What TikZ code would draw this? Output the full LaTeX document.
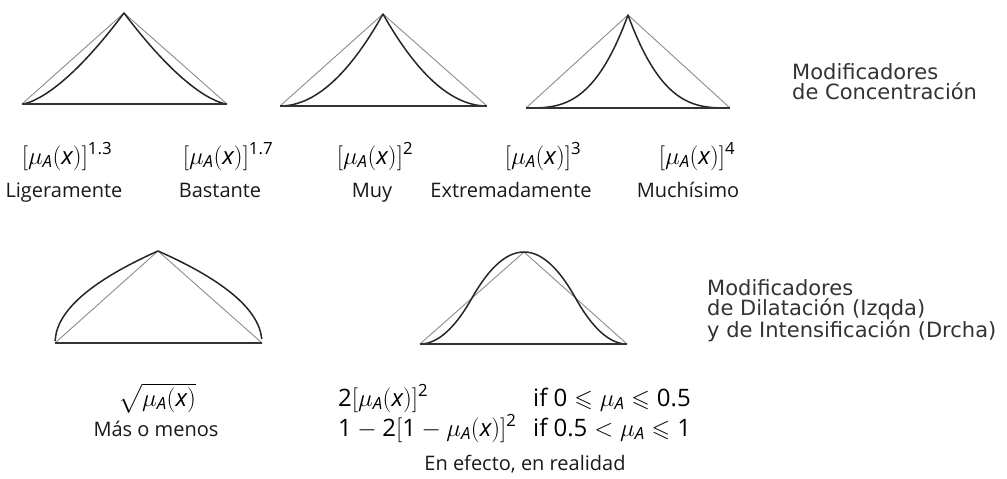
\documentclass[tikz,border=0pt]{standalone}
\usepackage{amsmath,amssymb}
\usepackage{fontspec}
\setmainfont{Open Sans}
\newfontfamily\modfont{DejaVu Sans}
\usepackage{tikz}
\usetikzlibrary{positioning}
\newcommand{\muA}{\mu_{\mathit{A}}}
\newcommand{\muAx}{\mu_{\mathit{A}}(\mathit{x})}
\newcommand{\nm}[1]{\text{#1}}
\tikzset{
  chord/.style={draw=black!45, line width=0.9pt},
  hedgeline/.style={draw=black!85, line width=1.5pt, line join=round},
  floorline/.style={draw=black!80, line width=1.8pt},
  fml/.style={font=\fontsize{24}{26}\selectfont, inner sep=0pt, anchor=base},
  fmlw/.style={fml, anchor=base west},
  lbl/.style={font=\fontsize{20}{22}\selectfont, inner sep=0pt, anchor=base, text=black!90},
  modtxt/.style={font=\modfont\fontsize{21}{20.5}\selectfont, align=left, anchor=north west,
                 inner sep=0pt, text=black!80},
}
% #1 left x, #2 apex x, #3 right x, #4 base y, #5 apex y, #6 hedge of \q
\newcommand{\hedgetri}[6]{%
  \draw[chord] (#1,#4) -- (#2,#5) -- (#3,#4);
  \draw[hedgeline] plot[domain=0.0005:1, samples=90, variable=\q] ({#1+\q*(#2-#1)},{#4-(#4-#5)*(#6)})
    -- plot[domain=1:0.0005, samples=90, variable=\q] ({#3-\q*(#3-#2)},{#4-(#4-#5)*(#6)});
  \draw[floorline] (#1,#4) -- (#3,#4);
}

\begin{document}
\begin{tikzpicture}[x=1pt, y=-1pt]
  \useasboundingbox (0,0) rectangle (1007,479);
  % concentration
  \hedgetri{22}{124}{227}{104}{13}{\q^1.5}
  \hedgetri{280}{383}{487}{106}{14}{\q^2}
  \hedgetri{526}{628}{730}{108}{15}{\q^3}
  \node[modtxt] (mconc) at (792,63) {Modificadores\\de Concentración};
  \node[fml] (f13) at (67,164) {$[\muAx]^{\nm{1.3}}$};
  \node[fml] (f17) at (228,164) {$[\muAx]^{\nm{1.7}}$};
  \node[fml] (f2) at (375,164) {$[\muAx]^{\nm{2}}$};
  \node[fml] (f3) at (543,164) {$[\muAx]^{\nm{3}}$};
  \node[fml] (f4) at (697,164) {$[\muAx]^{\nm{4}}$};
  \node[lbl] (l13) at (64,197) {Ligeramente};
  \node[lbl] (l17) at (220,197) {Bastante};
  \node[lbl] (l2) at (372,197) {Muy};
  \node[lbl] (l3) at (511,197) {Extremadamente};
  \node[lbl] (l4) at (688,197) {Muchísimo};
  % dilation / intensification
  \hedgetri{55}{158}{262}{343}{251}{sqrt(\q)}
  \hedgetri{420}{524}{627}{344}{252}{(\q<=0.5 ? 2*\q*\q : 1-2*(1-\q)*(1-\q))}
  \node[modtxt] (mdil) at (707,279) {Modificadores\\de Dilatación (Izqda)\\y de Intensificación (Drcha)};
  \node[fml] (fsq) at (157,406) {$\sqrt{\muAx}$};
  \node[lbl] (lsq) at (156,436) {Más o menos};
  \node[fmlw] (fin1) at (338,406) {$\nm{2}[\muAx]^{\nm{2}}$};
  \node[fmlw] (cin1) at (533,406) {if $\nm{0}\leqslant\muA\leqslant\nm{0.5}$};
  \node[fmlw] (fin2) at (338,436) {$\nm{1}-\nm{2}[\nm{1}-\muAx]^{\nm{2}}$};
  \node[fmlw] (cin2) at (533,436) {if $\nm{0.5}<\muA\leqslant\nm{1}$};
  \node[lbl] (lin) at (525,470) {En efecto, en realidad};
\end{tikzpicture}
\end{document}
